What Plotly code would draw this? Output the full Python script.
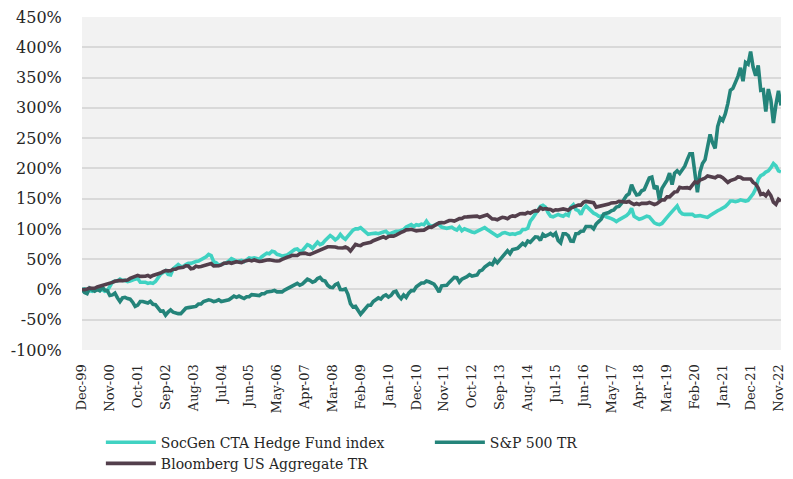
import plotly.graph_objects as go
import pandas as pd

# Monthly observations Dec-99 .. Dec-22 (277 points), cumulative return in %
months = pd.date_range("1999-12-01", "2022-12-01", freq="MS").strftime("%b-%y").tolist()
tick_labels = months[::11]
y_ticks = list(range(-100, 451, 50))
y_tick_text = [f"{v}%" for v in y_ticks]

socgen = [0,
    1, -1, -2, -3, 1, 0, -2, 0, -3, -2, 5, 12,
    14, 14, 17, 15, 15, 13, 14, 16, 17, 18, 12, 12,
    12, 10, 11, 10, 13, 19, 25, 28, 31, 25, 24, 34,
    38, 41, 38, 38, 41, 43, 43, 45, 46, 47, 49, 51,
    54, 58, 56, 46, 44, 40, 41, 42, 44, 47, 51, 49,
    46, 47, 48, 46, 49, 52, 51, 52, 51, 50, 54, 57,
    60, 59, 63, 62, 58, 57, 55, 56, 57, 60, 63, 66,
    67, 63, 64, 70, 74, 72, 68, 73, 78, 74, 76, 81,
    85, 89, 86, 82, 85, 91, 86, 83, 88, 94, 98, 100,
    100, 102, 98, 95, 91, 92, 93, 93, 92, 94, 95, 96,
    92, 93, 95, 96, 96, 98, 99, 103, 105, 107, 104, 107,
    106, 108, 107, 113, 107, 104, 106, 108, 107, 103, 102, 101,
    102, 103, 100, 98, 103, 97, 100, 98, 97, 95, 94, 96,
    98, 100, 102, 99, 96, 94, 91, 88, 90, 93, 94, 92,
    91, 92, 91, 93, 94, 99, 99, 101, 113, 118, 124, 130,
    137, 139, 136, 127, 121, 120, 122, 124, 122, 121, 124, 122,
    136, 140, 132, 130, 124, 133, 138, 134, 129, 126, 124, 121,
    121, 123, 120, 119, 117, 115, 112, 115, 117, 120, 122, 126,
    134, 121, 118, 116, 117, 119, 121, 120, 115, 110, 108, 107,
    109, 113, 119, 124, 128, 133, 138, 129, 125, 124, 124, 125,
    124, 121, 122, 122, 121, 120, 119, 122, 125, 127, 130, 132,
    134, 137, 141, 146, 146, 145, 146, 148, 147, 146, 147, 152,
    158, 166, 182, 188, 190, 194, 196, 201, 208, 204, 196, 194]

sp500 = [0,
    -5, -7, 2, -1, -3, 0, -2, 4, -1, -2, -10, -9,
    -6, -14, -20, -14, -13, -15, -16, -21, -28, -26, -20, -20,
    -21, -22.5, -19.6, -24.5, -25.1, -30.5, -35.9, -35.5, -42.5, -37.4, -33.7, -37.6,
    -39, -40, -40, -35, -31, -30, -29, -28, -28, -24, -24, -20,
    -18, -17, -18, -20, -19, -17, -20, -19, -18.5, -17, -14, -11,
    -13, -11, -13, -15, -12, -12, -8.5, -9, -8.5, -10, -7, -7,
    -4, -4, -3, -1.5, -4, -4, -4, -1, 1, 4.5, 6.5, 8,
    10, 7, 9, 13, 17, 15, 12, 13.5, 18, 20, 15, 14,
    7, 3.6, 3, 8, 10, 0, -0.4, 1, -8, -23.5, -29, -28,
    -34, -41, -36, -30, -26, -26, -20, -17, -14, -16, -11, -9,
    -12.5, -10, -4.4, -3, -10.6, -15, -9, -13, -6, -2, -2, 4.5,
    7, 10.6, 10.6, 14, 12.7, 10.8, 8.6, 2.7, -4.5, 6, 5.7, 6.8,
    11.6, 16.4, 20, 19.5, 12, 17, 18.6, 21, 24.5, 22, 23, 24,
    30.5, 32, 37, 40, 43, 41, 49, 44, 49, 56, 60, 64,
    59, 66, 67, 68, 72, 76, 73, 80, 78, 82, 87, 86.5,
    81, 91, 88, 90, 92.5, 89, 93, 81, 77, 92, 92, 89,
    80, 79.5, 92, 92.5, 96, 96.5, 104, 104, 104, 100, 108, 112,
    116, 124.5, 125, 127, 130, 131.5, 136, 137, 142, 148, 155, 158,
    173, 163, 156, 157, 163, 165, 175, 184, 185.5, 166, 171, 147,
    167, 175, 180.5, 192, 173, 192, 196, 191.5, 197, 203.5, 214.5, 224,
    224, 197, 160.5, 194, 208, 214, 232, 256, 242, 233, 269, 283,
    279, 290, 307, 329, 332, 342, 352, 366, 344, 375, 372, 393,
    367, 353, 370, 329, 330, 294, 331, 313, 275, 305, 328, 304]

bbg_agg = [0,
    -0.3, 0.9, 2.3, 2.1, 2.0, 4.1, 5.2, 6.7, 7.4, 8.1, 9.9, 11.6,
    13.4, 14.4, 15.0, 14.5, 15.2, 15.6, 18.2, 19.6, 21.0, 23.3, 21.6, 21.0,
    21.9, 23.0, 20.7, 23.0, 24.0, 25.1, 27.2, 29.3, 31.3, 30.7, 30.8, 33.5,
    33.6, 35.5, 35.5, 36.5, 39.1, 38.8, 34.1, 34.9, 38.5, 37.3, 37.8, 39.0,
    40.1, 41.6, 42.7, 38.9, 38.3, 39.1, 40.5, 43.2, 43.5, 44.6, 43.3, 45.0,
    45.9, 45.1, 44.4, 46.4, 47.9, 48.6, 47.2, 48.9, 47.4, 46.2, 46.8, 48.5,
    48.6, 49.0, 47.6, 47.3, 47.1, 47.5, 49.6, 51.8, 53.2, 54.4, 56.2, 56.0,
    56.0, 59.0, 59.0, 60.0, 58.5, 58.0, 59.5, 61.5, 62.5, 64.0, 67.0, 68.0,
    70.5, 70.5, 71.0, 70.0, 69.0, 69.0, 68.5, 70.0, 68.0, 63.5, 68.5, 74.4,
    73.1, 72.4, 75.1, 75.6, 76.9, 77.8, 80.5, 82.3, 84.0, 84.9, 87.1, 84.7,
    87.5, 88.2, 88.0, 89.9, 91.4, 94.1, 96.0, 98.4, 98.6, 99.3, 98.0, 96.8,
    97.3, 97.9, 98.0, 100.5, 103.1, 102.5, 105.5, 108.5, 110.0, 110.3, 110.1, 112.0,
    113.9, 113.9, 112.9, 115.0, 117.0, 117.1, 119.7, 119.8, 120.2, 120.6, 121.1, 121.0,
    119.2, 120.6, 120.7, 123.2, 119.8, 116.3, 116.4, 115.1, 117.3, 119.1, 118.3, 116.7,
    120.1, 121.5, 120.7, 122.6, 125.0, 125.2, 124.9, 127.3, 126.0, 128.5, 130.1, 129.7,
    135.0, 132.4, 133.5, 132.7, 132.2, 129.8, 131.7, 131.3, 132.9, 133.0, 132.2, 131.0,
    134.5, 136.5, 138.3, 139.3, 139.3, 143.9, 145.4, 145.0, 145.0, 143.2, 136.0, 137.0,
    137.5, 139.2, 139.0, 141.0, 142.9, 142.6, 143.5, 145.7, 144.6, 144.7, 144.3, 145.4,
    142.5, 140.3, 142.0, 140.4, 142.1, 142.0, 142.2, 143.7, 142.1, 140.3, 141.8, 145.5,
    148.0, 147.8, 152.9, 152.9, 157.6, 161.0, 161.5, 168.8, 167.6, 168.4, 168.1, 166.9,
    172.1, 177.6, 176.0, 180.8, 182.2, 184.0, 187.5, 186.0, 185.7, 184.4, 187.3, 186.9,
    184.6, 180.3, 176.9, 179.7, 180.5, 182.6, 186.0, 185.5, 182.7, 182.5, 183.3, 182.5,
    176.8, 174.1, 167.3, 156.8, 158.3, 154.8, 161.1, 154.9, 144.1, 140.5, 149.0, 145.8]

series = [
    ("SocGen CTA Hedge Fund index", socgen, "#40D2C2"),
    ("S&P 500 TR", sp500, "#24847A"),
    ("Bloomberg US Aggregate TR", bbg_agg, "#533F4C"),
]

FONT = "DejaVu Serif"
Y_MIN, Y_MAX = -100, 450
fig = go.Figure()
for name, vals, color in series:
    fig.add_trace(go.Scatter(
        x=months, y=vals, name=name, mode="lines",
        line=dict(color=color, width=3.6), hoverinfo="skip",
    ))

n = len(months)
fig.update_layout(
    width=793, height=479,
    margin=dict(l=82, r=12, t=17, b=129, autoexpand=False),
    paper_bgcolor="white", plot_bgcolor="#F2F2F2",
    font=dict(family=FONT, color="#262626"),
    showlegend=True,
    legend=dict(
        orientation="h", x=0.027, y=-0.23, xanchor="left", yanchor="top",
        entrywidth=264, entrywidthmode="pixels", itemwidth=50,
        font=dict(family=FONT, size=14, color="#262626"),
        bgcolor="rgba(0,0,0,0)", tracegroupgap=0,
    ),
    xaxis=dict(
        type="category", categoryorder="array", categoryarray=months,
        range=[0, n - 1], automargin=False,
        tickmode="array", tickvals=tick_labels, ticktext=tick_labels,
        tickangle=-90, tickfont=dict(family=FONT, size=13, color="#262626"),
        showgrid=False, zeroline=False, showline=False,
        ticks="outside", ticklen=8, tickcolor="rgba(0,0,0,0)",
    ),
    # secondary axis: only draws the category tick marks on the 0% line
    xaxis2=dict(
        overlaying="x", anchor="free", position=(0 - Y_MIN) / (Y_MAX - Y_MIN),
        range=[0, n - 1], tickmode="array", tickvals=list(range(0, n, 11)),
        showticklabels=False, ticks="outside", ticklen=5, tickwidth=1.3,
        tickcolor="#BFBFBF", showgrid=False, zeroline=False, showline=False,
        layer="below traces",
    ),
    yaxis=dict(
        range=[Y_MIN, Y_MAX], automargin=False,
        tickmode="array", tickvals=y_ticks, ticktext=y_tick_text,
        tickfont=dict(family=FONT, size=16, color="#262626"),
        showgrid=True, gridcolor="#D9D9D9", gridwidth=1.5,
        zeroline=False, showline=False,
        ticks="outside", ticklen=16, tickcolor="rgba(0,0,0,0)",
    ),
)

fig.write_html("out.html", config={"displayModeBar": False},
               post_script="document.body.style.margin='0';")
